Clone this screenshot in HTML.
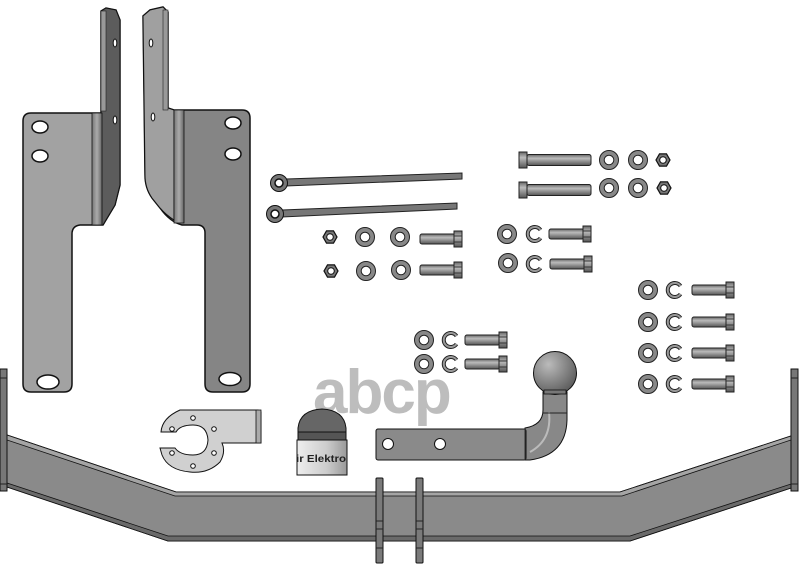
<!DOCTYPE html>
<html><head><meta charset="utf-8"><style>html,body{margin:0;padding:0;background:#fff;width:799px;height:567px;overflow:hidden}</style></head>
<body>
<svg width="799" height="567" viewBox="0 0 799 567" xmlns="http://www.w3.org/2000/svg">
<defs>
<linearGradient id="cyl" x1="0" y1="0" x2="0" y2="1"><stop offset="0" stop-color="#666"/><stop offset="0.35" stop-color="#bbb"/><stop offset="1" stop-color="#555"/></linearGradient>
<linearGradient id="fold" x1="0" y1="0" x2="1" y2="0"><stop offset="0" stop-color="#777"/><stop offset="0.5" stop-color="#aaa"/><stop offset="1" stop-color="#666"/></linearGradient>
<radialGradient id="ball" cx="0.35" cy="0.3" r="0.8"><stop offset="0" stop-color="#bbb"/><stop offset="0.5" stop-color="#888"/><stop offset="1" stop-color="#555"/></radialGradient>
<linearGradient id="cap" x1="0" y1="0" x2="1" y2="0"><stop offset="0" stop-color="#eee"/><stop offset="0.6" stop-color="#ccc"/><stop offset="1" stop-color="#999"/></linearGradient>
<g id="washer"><circle r="9.5" fill="#888" stroke="#222" stroke-width="1"/><circle r="4.8" fill="#fff" stroke="#222" stroke-width="1"/></g>
<g id="lock"><path d="M5.5,-4 A7,7 0 1 0 5.5,4" fill="none" stroke="#222" stroke-width="4"/><path d="M5.5,-4 A7,7 0 1 0 5.5,4" fill="none" stroke="#999" stroke-width="2"/></g>
<g id="nut"><polygon points="7,0 3.5,6.1 -3.5,6.1 -7,0 -3.5,-6.1 3.5,-6.1" fill="#777" stroke="#111" stroke-width="1.2"/><circle r="3.3" fill="#fff" stroke="#111"/></g>
<g id="bolt"><rect x="0" y="-5" width="35" height="10" rx="2" fill="url(#cyl)" stroke="#222"/><rect x="34" y="-8" width="8" height="16" fill="url(#cyl)" stroke="#222"/><line x1="34" y1="-3" x2="42" y2="-3" stroke="#333"/><line x1="34" y1="3" x2="42" y2="3" stroke="#333"/></g>
<g id="bolt2"><rect x="-8" y="-8" width="8" height="16" fill="url(#cyl)" stroke="#222"/><rect x="0" y="-5.5" width="64" height="11" rx="2" fill="url(#cyl)" stroke="#222"/></g>
</defs>

<!-- left bracket -->
<path d="M31,113 L101,113 L101,11 L106,8 L116,10 L120,20 L120,185 L115,205 L103,225 L80,225 Q72,226 72,234 L72,384 Q72,392 64,392 L31,392 Q23,392 23,384 L23,121 Q23,113 31,113 Z" fill="#a2a2a2" stroke="#111" stroke-width="1.5"/>
<path d="M101,113 L101,11 L106,8 L116,10 L120,20 L120,185 L115,205 L103,225 L101,225 Z" fill="#5c5c5c" stroke="#111"/>
<rect x="92" y="113" width="10" height="112" fill="url(#fold)" stroke="#111" stroke-width="0.8"/>
<rect x="101" y="11" width="5" height="100" fill="#999" stroke="#222" stroke-width="0.6"/>
<ellipse cx="40" cy="127" rx="8" ry="6" fill="#fff" stroke="#111" stroke-width="1.5"/>
<ellipse cx="40" cy="156" rx="8" ry="6" fill="#fff" stroke="#111" stroke-width="1.5"/>
<ellipse cx="48" cy="382" rx="11" ry="7" fill="#fff" stroke="#111" stroke-width="1.5"/>
<ellipse cx="115" cy="43" rx="1.8" ry="4" fill="#fff" stroke="#111"/>
<ellipse cx="115" cy="120" rx="1.8" ry="4" fill="#fff" stroke="#111"/>

<!-- right bracket -->
<path d="M143,16 L150,10 L163,7 L168,12 L168,108 L174,110 L242,110 Q250,110 250,118 L250,384 Q250,392 242,392 L213,392 Q205,392 205,384 L205,233 Q205,225 197,225 L182,225 Q170,222 160,208 L152,198 Q145,188 145,175 Z" fill="#858585" stroke="#111" stroke-width="1.5"/>
<path d="M143,16 L150,10 L163,7 L168,12 L168,108 L174,110 L174,220 Q166,215 160,208 L152,198 Q145,188 145,175 Z" fill="#a0a0a0" stroke="#111"/>
<rect x="174" y="110" width="10" height="113" fill="url(#fold)" stroke="#111" stroke-width="0.8"/>
<rect x="163" y="10" width="5" height="100" fill="#999" stroke="#222" stroke-width="0.6"/>
<ellipse cx="233" cy="123" rx="8" ry="6" fill="#fff" stroke="#111" stroke-width="1.5"/>
<ellipse cx="233" cy="154" rx="8" ry="6" fill="#fff" stroke="#111" stroke-width="1.5"/>
<ellipse cx="230" cy="379" rx="11" ry="6.5" fill="#fff" stroke="#111" stroke-width="1.5"/>
<ellipse cx="151" cy="43" rx="1.8" ry="4" fill="#fff" stroke="#111"/>
<ellipse cx="153" cy="117" rx="1.8" ry="4" fill="#fff" stroke="#111"/>

<!-- rods -->
<polygon points="286,179 462,173 462,179 286,186" fill="#777" stroke="#222"/>
<circle cx="279" cy="183" r="8.5" fill="#777" stroke="#111"/><circle cx="279" cy="183" r="4" fill="#fff" stroke="#111" stroke-width="1.5"/>
<polygon points="282,210 457,203 457,209 282,217" fill="#777" stroke="#222"/>
<circle cx="275" cy="214" r="8.5" fill="#777" stroke="#111"/><circle cx="275" cy="214" r="4" fill="#fff" stroke="#111" stroke-width="1.5"/>

<!-- long bolts -->
<use href="#bolt2" x="527" y="160"/><use href="#washer" x="609" y="160"/><use href="#washer" x="638" y="160"/><use href="#nut" x="663" y="160"/>
<use href="#bolt2" x="527" y="190"/><use href="#washer" x="609" y="188"/><use href="#washer" x="638" y="188"/><use href="#nut" x="664" y="188"/>

<!-- group A -->
<use href="#nut" x="330" y="237"/><use href="#washer" x="365" y="237"/><use href="#washer" x="400" y="237"/><use href="#bolt" x="420" y="239"/>
<use href="#nut" x="331" y="271"/><use href="#washer" x="366" y="271"/><use href="#washer" x="401" y="270"/><use href="#bolt" x="420" y="270"/>
<!-- group B -->
<use href="#washer" x="507" y="234"/><use href="#lock" x="535" y="234"/><use href="#bolt" x="549" y="234"/>
<use href="#washer" x="508" y="263"/><use href="#lock" x="535" y="264"/><use href="#bolt" x="550" y="264"/>
<!-- group C -->
<use href="#washer" x="648" y="290"/><use href="#lock" x="675" y="290"/><use href="#bolt" x="692" y="290"/>
<use href="#washer" x="648" y="322"/><use href="#lock" x="675" y="322"/><use href="#bolt" x="692" y="322"/>
<use href="#washer" x="648" y="353"/><use href="#lock" x="675" y="353"/><use href="#bolt" x="692" y="353"/>
<use href="#washer" x="648" y="384"/><use href="#lock" x="675" y="384"/><use href="#bolt" x="692" y="384"/>
<!-- group D -->
<use href="#washer" x="424" y="340"/><use href="#lock" x="451" y="340"/><use href="#bolt" x="465" y="340"/>
<use href="#washer" x="424" y="364"/><use href="#lock" x="451" y="364"/><use href="#bolt" x="465" y="364"/>

<!-- watermark -->
<text x="313" y="413" font-family="Liberation Sans, sans-serif" font-size="62" font-weight="bold" fill="#bdbdbd" letter-spacing="-2">abcp</text>

<!-- socket plate -->
<path d="M180,410 L258,410 L261,412 L261,443 L222,443 Q226,452 220,462 Q208,474 190,472 Q168,470 162,455 L160,448 L175,448 Q180,455 193,455 Q207,455 208,440 Q207,425 193,425 Q180,425 176,432 L161,432 Q162,418 180,410 Z" fill="#d0d0d0" stroke="#111"/>
<rect x="256" y="410" width="5" height="33" fill="#aaa" stroke="#111" stroke-width="0.8"/>
<g fill="#fff" stroke="#111"><circle cx="193" cy="418" r="2.3"/><circle cx="172" cy="429" r="2.3"/><circle cx="214" cy="429" r="2.3"/><circle cx="172" cy="453" r="2.3"/><circle cx="214" cy="453" r="2.3"/><circle cx="193" cy="466" r="2.3"/></g>

<!-- socket cover -->
<path d="M298,433 L298,428 Q300,410 322,409 Q344,410 346,428 L346,433 Z" fill="#666" stroke="#111"/>
<rect x="298" y="432" width="48" height="8" fill="#555" stroke="#111"/>
<rect x="297" y="440" width="50" height="35" fill="url(#cap)" stroke="#111"/>
<text x="296" y="462" font-family="Liberation Sans, sans-serif" font-size="10" font-weight="bold" fill="#222" textLength="50" lengthAdjust="spacingAndGlyphs">ir Elektro</text>

<!-- tow ball -->
<path d="M543,392 L567,392 L567,420 Q566,455 530,460 L525,460 L525,428 Q543,425 543,410 Z" fill="#888" stroke="#111"/>
<path d="M549,412 Q552,440 530,452" fill="none" stroke="#bbb" stroke-width="2"/>
<line x1="543" y1="413" x2="567" y2="413" stroke="#222"/>
<rect x="376" y="429" width="150" height="31" rx="2" fill="#8a8a8a" stroke="#111"/>
<line x1="525" y1="429" x2="525" y2="460" stroke="#333"/>
<circle cx="388" cy="444" r="5.5" fill="#fff" stroke="#111"/><circle cx="440" cy="444" r="5.5" fill="#fff" stroke="#111"/>
<circle cx="555" cy="373" r="21.5" fill="url(#ball)" stroke="#111"/>
<rect x="544" y="390" width="22" height="4" fill="#777" stroke="#111" stroke-width="0.8"/>

<!-- crossbar -->
<path d="M7,435 L176,492 L620,492 L791,436 L791,488 L630,541 L168,541 L7,487 Z" fill="#8a8a8a" stroke="#111"/>
<path d="M7,435 L176,492 L620,492 L791,436 L791,440 L622,496 L175,496 L7,440 Z" fill="#a5a5a5" stroke="#111" stroke-width="0.8"/>
<path d="M7,483 L168,536 L630,536 L791,484 L791,488 L630,541 L168,541 L7,487 Z" fill="#6a6a6a" stroke="#111" stroke-width="0.8"/>
<rect x="0" y="369" width="7" height="122" fill="#777" stroke="#111"/>
<line x1="0" y1="378" x2="7" y2="378" stroke="#222"/><line x1="0" y1="484" x2="7" y2="484" stroke="#222"/>
<rect x="791" y="369" width="7" height="122" fill="#777" stroke="#111"/>
<line x1="791" y1="378" x2="798" y2="378" stroke="#222"/><line x1="791" y1="484" x2="798" y2="484" stroke="#222"/>
<rect x="376" y="478" width="7" height="85" rx="1" fill="#7a7a7a" stroke="#111"/>
<rect x="416" y="478" width="7" height="85" rx="1" fill="#7a7a7a" stroke="#111"/>
<g stroke="#222"><line x1="376" y1="521" x2="383" y2="521"/><line x1="376" y1="529" x2="383" y2="529"/><line x1="376" y1="548" x2="383" y2="548"/><line x1="416" y1="521" x2="423" y2="521"/><line x1="416" y1="529" x2="423" y2="529"/><line x1="416" y1="548" x2="423" y2="548"/></g>
</svg>
</body></html>
